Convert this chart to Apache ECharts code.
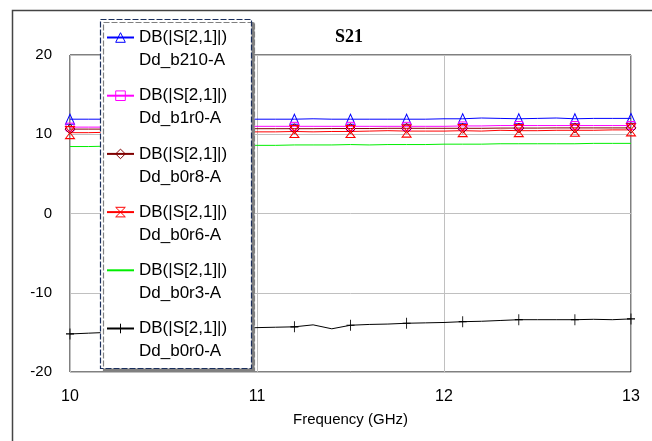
<!DOCTYPE html>
<html>
<head>
<meta charset="utf-8">
<script src="https://cdn.jsdelivr.net/npm/echarts@6/dist/echarts.min.js"></script>
<style>
  html, body { margin: 0; padding: 0; background: #fff; }
  #chart { width: 652px; height: 441px; }
</style>
</head>
<body>
<div id="chart"></div>
<script>
var freq = [10.0, 10.1, 10.2, 10.3, 10.4, 10.5, 10.6, 10.7, 10.8, 10.9,
            11.0, 11.1, 11.2, 11.3, 11.4, 11.5, 11.6, 11.7, 11.8, 11.9,
            12.0, 12.1, 12.2, 12.3, 12.4, 12.5, 12.6, 12.7, 12.8, 12.9, 13.0];

var b210 = [11.9, 11.9, 11.9, 11.9, 11.9, 11.9, 11.9, 11.9, 11.9, 11.9,
            11.9, 11.9, 11.9, 11.95, 11.9, 11.9, 11.9, 11.9, 11.9, 11.9,
            11.95, 11.95, 12.05, 12.0, 11.95, 12.0, 12.05, 11.95, 12.0, 12.0, 12.0];
var b1r0 = [10.9, 10.9, 10.9, 10.9, 10.95, 10.95, 10.95, 10.95, 10.95, 11.0,
            11.0, 11.0, 11.0, 11.0, 11.0, 11.0, 11.0, 11.0, 11.0, 11.0,
            11.0, 11.05, 11.05, 11.1, 11.1, 11.1, 11.1, 11.1, 11.1, 11.1, 11.1];
var b0r8 = [10.65, 10.65, 10.65, 10.65, 10.7, 10.7, 10.7, 10.7, 10.7, 10.7,
            10.7, 10.7, 10.7, 10.7, 10.72, 10.72, 10.72, 10.75, 10.75, 10.75,
            10.75, 10.75, 10.75, 10.78, 10.78, 10.78, 10.8, 10.8, 10.8, 10.8, 10.8];
var b0r6 = [10.2, 10.2, 10.25, 10.25, 10.25, 10.3, 10.3, 10.3, 10.3, 10.3,
            10.3, 10.3, 10.35, 10.3, 10.35, 10.35, 10.4, 10.45, 10.4, 10.4,
            10.4, 10.45, 10.4, 10.5, 10.45, 10.45, 10.5, 10.5, 10.5, 10.55, 10.55];
var b0r3 = [8.45, 8.45, 8.5, 8.5, 8.5, 8.5, 8.55, 8.55, 8.55, 8.6,
            8.6, 8.6, 8.65, 8.65, 8.65, 8.7, 8.65, 8.7, 8.7, 8.7,
            8.75, 8.75, 8.75, 8.8, 8.8, 8.8, 8.8, 8.8, 8.85, 8.85, 8.85];
var b0r0 = [-15.2, -15.1, -15.0, -14.9, -14.8, -14.8, -14.7, -14.6, -14.5, -14.5,
            -14.4, -14.35, -14.3, -14.05, -14.55, -14.1, -14.0, -13.95, -13.85, -13.8,
            -13.75, -13.65, -13.6, -13.5, -13.4, -13.4, -13.4, -13.4, -13.35, -13.4, -13.3];

var names = ['Dd_b210-A', 'Dd_b1r0-A', 'Dd_b0r8-A', 'Dd_b0r6-A', 'Dd_b0r3-A', 'Dd_b0r0-A'];
var colors = ['#0000ff', '#ff00ff', '#800000', '#ff0000', '#00ee00', '#000000'];
var symbols = ['triangle', 'rect', 'diamond',
               'path://M0,0L10,0L0,10L10,10Z', 'none',
               'path://M5,0L5,10M0,5L10,5'];
var symbolSizes = [[9, 10], 8, 10, [9, 12], 0, [8, 11]];
var yTicks = [-20, -10, 0, 10, 20];
var xTicks = [10, 11, 12, 13];

function pts(vals) {
    return freq.map(function (f, i) {
        if (i % 3 === 0) return [f, vals[i]];
        return { value: [f, vals[i]], symbol: 'none' };
    });
}

var allVals = [b210, b1r0, b0r8, b0r6, b0r3, b0r0];
var series = allVals.map(function (vals, k) {
    return {
        name: names[k],
        type: 'line',
        data: pts(vals),
        symbol: symbols[k] === 'none' ? 'circle' : symbols[k],
        showSymbol: symbols[k] !== 'none',
        showAllSymbol: true,
        symbolSize: symbolSizes[k],
        lineStyle: { color: colors[k], width: 1 },
        itemStyle: {
            color: 'rgba(0,0,0,0)',
            borderColor: colors[k],
            borderWidth: symbols[k] === 'none' ? 0 : 1
        },
        emphasis: { disabled: true },
        animation: false
    };
});

var legendData = names.map(function (n, k) {
    if (symbols[k] === 'none') return { name: n, itemStyle: { opacity: 0 } };
    return { name: n };
});

var chart = echarts.init(document.getElementById('chart'));
var option = {
    animation: false,
    title: {
        text: 'S21',
        left: 335,
        top: 28,
        padding: 0,
        textStyle: { fontFamily: 'Liberation Serif', fontWeight: 'bold', fontSize: 18, color: '#000' }
    },
    grid: {
        left: 70, right: 21, top: 55, bottom: 69,
        show: true, borderColor: '#000', borderWidth: 1
    },
    xAxis: {
        type: 'value',
        min: xTicks[0], max: xTicks[xTicks.length - 1], interval: 1,
        name: 'Frequency (GHz)',
        nameLocation: 'middle',
        nameGap: 40,
        nameTextStyle: { fontFamily: 'Liberation Sans', fontSize: 15, color: '#000' },
        axisLine: { show: false },
        axisTick: { show: false },
        axisLabel: { fontFamily: 'Liberation Sans', fontSize: 16, color: '#000', margin: 17 },
        splitLine: { lineStyle: { color: '#c0c0c0', width: 1 } }
    },
    yAxis: {
        type: 'value',
        min: yTicks[0], max: yTicks[yTicks.length - 1], interval: 10,
        axisLine: { show: false },
        axisTick: { show: false },
        axisLabel: { fontFamily: 'Liberation Sans', fontSize: 15, color: '#000', margin: 18 },
        splitLine: { lineStyle: { color: '#c0c0c0', width: 1 } }
    },
    legend: {
        orient: 'vertical',
        left: 106,
        top: 3,
        padding: 0,
        itemWidth: 27,
        itemHeight: 12,
        itemGap: -10.8,
        selectedMode: false,
        data: legendData,
        formatter: function (name) {
            return '\u00a0\nDB(|S[2,1]|)\n' + name;
        },
        textStyle: { fontFamily: 'Liberation Sans', fontSize: 17, color: '#000', lineHeight: 23 },
        itemStyle: { borderWidth: 1 },
        z: 10
    },
    graphic: [
        {
            type: 'polyline',
            shape: { points: [[12.5, 441], [12.5, 10.5], [652, 10.5]] },
            style: { stroke: '#444', lineWidth: 1.5, fill: null },
            silent: true
        },
        {
            type: 'rect',
            z: 8,
            shape: { x: 100.5, y: 19.5, width: 151, height: 349 },
            style: {
                fill: '#fff', stroke: '#1a2e5c', lineWidth: 1.2, lineDash: [6, 2],
                shadowColor: '#808080', shadowOffsetX: 3, shadowOffsetY: 3, shadowBlur: 0
            },
            silent: true
        }
    ],
    series: series
};
chart.setOption(option);
</script>
</body>
</html>
